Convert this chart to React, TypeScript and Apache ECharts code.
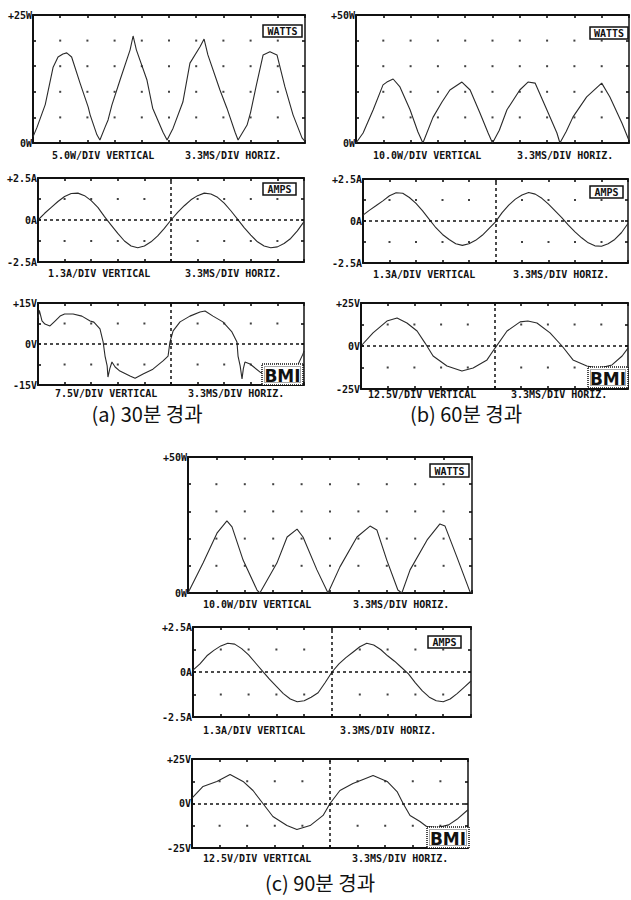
import React, { useEffect, useRef } from "react";
import * as echarts from "echarts";

// ---------- data (x in divisions, 3.3 ms / div) ----------
// (a) 30분 경과
const WATTS_A_X = [0, 0.15, 0.45, 0.74, 0.92, 1.1, 1.24, 1.42, 1.73, 2.03, 2.1, 2.35, 2.46, 2.65, 2.76, 2.9, 3.2, 3.57, 3.68, 3.8, 4.19, 4.4, 4.78, 4.93, 5.15, 5.51, 5.77, 6.14, 6.29, 6.43, 6.87, 7.13, 7.43, 7.54, 7.87, 8.0, 8.2, 8.46, 8.71, 8.97, 9.26, 9.56, 9.89, 10];
const WATTS_A_Y = [1.2, 3.1, 7.5, 14.8, 16.8, 17.4, 17.6, 16.8, 11.7, 7.0, 5.5, 1.6, 0.6, 3.1, 4.5, 7.4, 12.3, 18.2, 20.9, 18.2, 12.3, 6.8, 2.1, 0.6, 2.9, 8.0, 15.6, 18.8, 20.3, 17.2, 10.4, 6.8, 2.1, 0.6, 3.5, 6.0, 11.0, 17.2, 17.8, 17.2, 11.0, 5.5, 1.0, 0.3];

const AMPS_T = Array.from({ length: 41 }, (_, i) => i * 0.25);
const AMPS_A_Y = [0, 0.4, 0.75, 1.1, 1.4, 1.58, 1.6, 1.45, 1.15, 0.75, 0.2, -0.3, -0.8, -1.25, -1.55, -1.65, -1.55, -1.3, -0.95, -0.5, 0, 0.45, 0.85, 1.2, 1.45, 1.6, 1.55, 1.35, 1.0, 0.55, 0.05, -0.45, -0.9, -1.3, -1.55, -1.65, -1.6, -1.4, -1.1, -0.65, -0.1];

const VOLTS_A_X = [0, 0.05, 0.15, 0.26, 0.45, 0.64, 0.83, 1.0, 1.32, 1.65, 1.96, 2.1, 2.33, 2.45, 2.52, 2.6, 2.63, 2.7, 2.78, 2.9, 3.08, 3.46, 3.65, 3.95, 4.32, 4.7, 4.89, 4.96, 5.08, 5.34, 5.71, 6.09, 6.28, 6.58, 6.95, 7.29, 7.48, 7.52, 7.6, 7.67, 7.72, 7.78, 7.97, 8.35, 8.83, 9.36, 9.73, 9.96, 10];
const VOLTS_A_Y = [9.5, 12.3, 8.5, 7.3, 6.6, 8.4, 10.2, 11, 11, 10.2, 8.4, 8.0, 5.5, 0.7, -4.4, -8, -12.1, -9, -6.6, -8.4, -9.9, -11.7, -12.5, -11, -9.2, -6.2, -4.4, 0.7, 4.8, 8.1, 10.2, 11.7, 12.1, 10.2, 8.1, 4.4, 0.7, -4.4, -8, -12.8, -9, -6.6, -7.3, -10.3, -12.1, -11, -8.4, -3.7, -2.5];

// (b) 60분 경과
const WATTS_B_X = [0, 0.26, 0.63, 0.99, 1.13, 1.36, 1.61, 1.98, 2.27, 2.45, 2.82, 3.15, 3.44, 3.88, 4.18, 4.54, 4.84, 5.0, 5.25, 5.53, 6.0, 6.3, 6.56, 6.99, 7.36, 7.47, 7.7, 7.95, 8.45, 9.0, 9.3, 9.74, 10];
const WATTS_B_Y = [0, 3.9, 13, 22.7, 23.8, 25, 21.9, 13, 4.3, 0, 10, 16, 20.7, 23.8, 20.7, 11.7, 3.9, 0, 5, 13, 20.7, 23.8, 23.4, 13, 3.9, 0, 4.5, 10.2, 18, 23.4, 18, 7.8, 1];

const AMPS_B_Y = [0.35, 0.65, 0.92, 1.2, 1.5, 1.68, 1.65, 1.4, 1.05, 0.6, 0.1, -0.4, -0.8, -1.1, -1.35, -1.45, -1.35, -1.15, -0.85, -0.45, -0.05, 0.5, 0.95, 1.3, 1.55, 1.7, 1.6, 1.35, 1.0, 0.6, 0.2, -0.25, -0.65, -1.0, -1.3, -1.48, -1.5, -1.35, -1.1, -0.7, -0.15];

const VOLTS_B_X = [0, 0.45, 0.97, 1.35, 1.72, 2.1, 2.4, 2.7, 3.22, 3.78, 4.2, 4.72, 5.02, 5.47, 5.96, 6.25, 6.59, 7.08, 7.53, 7.94, 8.46, 8.9, 9.4, 9.78, 10];
const VOLTS_B_Y = [0, 7.6, 14.5, 16.3, 13.4, 8.7, 1.7, -5.8, -11.6, -14.5, -12.8, -8.1, -1.2, 8.7, 14, 14.5, 13.4, 7.6, 0, -8.1, -11.6, -13, -11, -5.8, -1.2];

// (c) 90분 경과
const WATTS_C_X = [0, 0.53, 1.02, 1.37, 1.55, 1.94, 2.43, 2.53, 3.13, 3.49, 3.84, 4.05, 4.54, 4.93, 5.35, 5.95, 6.41, 6.65, 7.0, 7.39, 7.53, 7.82, 8.42, 8.87, 9.05, 9.47, 9.93, 10];
const WATTS_C_Y = [0, 11, 22, 26.5, 24.3, 12.1, 1.1, 0, 11, 20.6, 23.5, 20.6, 8.5, 0, 9.6, 20.6, 24.6, 23.2, 12.1, 1.1, 0, 8.5, 19.5, 25.4, 24.6, 13.2, 0.4, 0];

const AMPS_C_Y = [0.1, 0.45, 0.9, 1.2, 1.45, 1.6, 1.55, 1.3, 0.95, 0.5, 0.05, -0.4, -0.8, -1.2, -1.5, -1.65, -1.6, -1.4, -1.15, -0.6, 0, 0.45, 0.8, 1.1, 1.4, 1.6, 1.5, 1.25, 0.9, 0.6, 0.25, -0.1, -0.6, -1.05, -1.4, -1.6, -1.65, -1.5, -1.2, -0.85, -0.5];

const VOLTS_C_X = [0, 0.4, 0.9, 1.38, 1.85, 2.21, 2.57, 2.93, 3.44, 3.8, 4.28, 4.75, 5.0, 5.36, 5.83, 6.2, 6.56, 7.07, 7.43, 7.65, 7.9, 8.26, 8.5, 8.9, 9.3, 9.64, 10];
const VOLTS_C_Y = [3, 9.6, 12.4, 16.3, 12.4, 7.3, 0, -7.3, -12.4, -14.6, -12.4, -6.7, 0, 7.3, 11.2, 13.5, 15.7, 12.4, 6.7, 0, -6.7, -10.1, -12.9, -13.5, -12, -8.4, -3.5];

// ---------- tick labels & texts ----------
const W25_TICKS = ["0W", "+25W"];
const W50_TICKS = ["0W", "+50W"];
const A_TICKS = ["-2.5A", "0A", "+2.5A"];
const V15_TICKS = ["-15V", "0V", "+15V"];
const V25_TICKS = ["-25V", "0V", "+25V"];
const CAPTIONS = ["(a) 30분 경과", "(b) 60분 경과", "(c) 90분 경과"];
const HORIZ_LABEL = "3.3MS/DIV HORIZ.";

const INK = "#111";
const TRACE = "#2a2a2a";
const MONO = '"DejaVu Sans Mono", monospace';

type Panel = {
  left: number; top: number; width: number; height: number;
  min: number; max: number; step: number; ticks: string[];
  xs: number[]; ys: number[]; center: boolean;
  badge: string; bx: number; by: number; bw: number; bh: number;
  vert: string; vx: number; hx: number; ly: number;
};

const PANELS: Panel[] = [
  { left: 33, top: 15, width: 272, height: 128, min: 0, max: 25, step: 5, ticks: W25_TICKS, xs: WATTS_A_X, ys: WATTS_A_Y, center: false, badge: "WATTS", bx: 263, by: 25, bw: 39, bh: 12, vert: "5.0W/DIV VERTICAL", vx: 52, hx: 185, ly: 155 },
  { left: 38, top: 178, width: 266, height: 84, min: -2.5, max: 2.5, step: 1.25, ticks: A_TICKS, xs: AMPS_T, ys: AMPS_A_Y, center: true, badge: "AMPS", bx: 263, by: 183, bw: 33, bh: 12, vert: "1.3A/DIV VERTICAL", vx: 48, hx: 185, ly: 273 },
  { left: 38, top: 303, width: 266, height: 82, min: -15, max: 15, step: 7.5, ticks: V15_TICKS, xs: VOLTS_A_X, ys: VOLTS_A_Y, center: true, badge: "BMI", bx: 262, by: 364, bw: 41, bh: 21, vert: "7.5V/DIV VERTICAL", vx: 55, hx: 188, ly: 393 },
  { left: 356, top: 15, width: 273, height: 128, min: 0, max: 50, step: 10, ticks: W50_TICKS, xs: WATTS_B_X, ys: WATTS_B_Y, center: false, badge: "WATTS", bx: 590, by: 27, bw: 38, bh: 12, vert: "10.0W/DIV VERTICAL", vx: 373, hx: 517, ly: 155 },
  { left: 363, top: 179, width: 265, height: 84, min: -2.5, max: 2.5, step: 1.25, ticks: A_TICKS, xs: AMPS_T, ys: AMPS_B_Y, center: true, badge: "AMPS", bx: 590, by: 186, bw: 33, bh: 12, vert: "1.3A/DIV VERTICAL", vx: 373, hx: 513, ly: 274 },
  { left: 361, top: 303, width: 267, height: 86, min: -25, max: 25, step: 12.5, ticks: V25_TICKS, xs: VOLTS_B_X, ys: VOLTS_B_Y, center: true, badge: "BMI", bx: 588, by: 367, bw: 40, bh: 21, vert: "12.5V/DIV VERTICAL", vx: 368, hx: 511, ly: 394 },
  { left: 188, top: 457, width: 284, height: 136, min: 0, max: 50, step: 10, ticks: W50_TICKS, xs: WATTS_C_X, ys: WATTS_C_Y, center: false, badge: "WATTS", bx: 430, by: 464, bw: 39, bh: 13, vert: "10.0W/DIV VERTICAL", vx: 203, hx: 353, ly: 604 },
  { left: 193, top: 627, width: 278, height: 90, min: -2.5, max: 2.5, step: 1.25, ticks: A_TICKS, xs: AMPS_T, ys: AMPS_C_Y, center: true, badge: "AMPS", bx: 428, by: 636, bw: 33, bh: 12, vert: "1.3A/DIV VERTICAL", vx: 203, hx: 340, ly: 730 },
  { left: 192, top: 759, width: 276, height: 89, min: -25, max: 25, step: 12.5, ticks: V25_TICKS, xs: VOLTS_C_X, ys: VOLTS_C_Y, center: true, badge: "BMI", bx: 427, by: 827, bw: 42, bh: 21, vert: "12.5V/DIV VERTICAL", vx: 203, hx: 352, ly: 858 },
];

const CAPTION_POS = [
  { x: 147, y: 413 },
  { x: 466, y: 413 },
  { x: 320, y: 882 },
];

function tickLabel(p: Panel, v: number): string {
  const near = (a: number, b: number) => Math.abs(a - b) < 1e-6;
  if (near(v, p.min)) return p.ticks[0];
  if (near(v, p.max)) return p.ticks[p.ticks.length - 1];
  if (p.ticks.length === 3 && near(v, 0)) return p.ticks[1];
  return "";
}

function buildOption() {
  const grid: any[] = [];
  const xAxis: any[] = [];
  const yAxis: any[] = [];
  const series: any[] = [];
  const graphic: any[] = [];

  PANELS.forEach((p, i) => {
    grid.push({ left: p.left, top: p.top, width: p.width, height: p.height });
    const line = (w: number) => ({ show: true, onZero: false, lineStyle: { color: INK, width: w } });
    const tick = { show: true, inside: true, length: 3, lineStyle: { color: INK, width: 1.6 } };
    const xBase = {
      gridIndex: i, type: "value", min: 0, max: 10, interval: 1,
      axisTick: tick, axisLabel: { show: false }, splitLine: { show: false },
    };
    xAxis.push({ ...xBase, position: "bottom", axisLine: line(2) });
    xAxis.push({ ...xBase, position: "top", axisLine: line(2) });
    const yBase = {
      gridIndex: i, type: "value", min: p.min, max: p.max, interval: p.step,
      axisTick: tick, splitLine: { show: false },
    };
    yAxis.push({
      ...yBase, position: "left", axisLine: line(2),
      axisLabel: {
        show: true, showMinLabel: true, showMaxLabel: true, margin: 1,
        formatter: (v: number) => tickLabel(p, v),
        fontFamily: MONO, fontSize: 10, fontWeight: "bold", color: INK,
      },
    });
    yAxis.push({ ...yBase, position: "right", axisLine: line(1.5), axisLabel: { show: false } });

    const ndiv = Math.round((p.max - p.min) / p.step);
    const dots: number[][] = [];
    for (let gx = 1; gx < 10; gx++) {
      for (let gy = 1; gy < ndiv; gy++) {
        const yv = p.min + gy * p.step;
        if (p.center && (gx === 5 || Math.abs(yv) < 1e-6)) continue;
        dots.push([gx, yv]);
      }
    }
    series.push({
      type: "scatter", xAxisIndex: 2 * i, yAxisIndex: 2 * i, data: dots,
      symbol: "rect", symbolSize: 2, itemStyle: { color: INK }, silent: true, z: 1,
    });
    series.push({
      type: "line", xAxisIndex: 2 * i, yAxisIndex: 2 * i,
      data: p.xs.map((x, k) => [x, p.ys[k]]),
      showSymbol: false, symbol: "none", silent: true, z: 3,
      lineStyle: { color: TRACE, width: 1.1 },
      markLine: p.center
        ? {
            silent: true, symbol: ["none", "none"], label: { show: false },
            lineStyle: { type: [3, 3], color: INK, width: 1.5 },
            data: [{ yAxis: 0 }, { xAxis: 5 }],
          }
        : undefined,
    });

    // badge
    if (p.badge === "BMI") {
      graphic.push({
        type: "rect", z: 100,
        shape: { x: p.bx, y: p.by, width: p.bw, height: p.bh },
        style: { fill: "#fff", stroke: INK, lineWidth: 1.5, lineDash: [1, 1] },
      });
      graphic.push({
        type: "rect", z: 101,
        shape: { x: p.bx + 2.5, y: p.by + 2.5, width: p.bw - 5, height: p.bh - 5 },
        style: { fill: "#fff", stroke: "#555", lineWidth: 1, lineDash: [1, 1] },
      });
      graphic.push({
        type: "text", z: 102,
        style: {
          text: p.badge, x: p.bx + p.bw / 2, y: p.by + p.bh / 2 + 1,
          textAlign: "center", textVerticalAlign: "middle", verticalAlign: "middle",
          font: 'bold 17px "DejaVu Sans", sans-serif', fill: INK,
        },
      });
    } else {
      graphic.push({
        type: "rect", z: 100,
        shape: { x: p.bx, y: p.by, width: p.bw, height: p.bh },
        style: { fill: "#fff", stroke: INK, lineWidth: 1.5 },
      });
      graphic.push({
        type: "text", z: 101,
        style: {
          text: p.badge, x: p.bx + p.bw / 2, y: p.by + p.bh / 2 + 0.5,
          textAlign: "center", textVerticalAlign: "middle", verticalAlign: "middle",
          font: `bold 10px ${MONO}`, fill: INK,
        },
      });
    }
    // under labels
    [
      { t: p.vert, x: p.vx },
      { t: HORIZ_LABEL, x: p.hx },
    ].forEach((l) => {
      graphic.push({
        type: "text", z: 100,
        style: {
          text: l.t, x: l.x, y: p.ly,
          textAlign: "left", textVerticalAlign: "middle", verticalAlign: "middle",
          font: `bold 10px ${MONO}`, fill: INK,
        },
      });
    });
  });

  CAPTIONS.forEach((c, i) => {
    graphic.push({
      type: "text", z: 100,
      style: {
        text: c, x: CAPTION_POS[i].x, y: CAPTION_POS[i].y,
        textAlign: "center", textVerticalAlign: "middle", verticalAlign: "middle",
        font: '20px "Noto Sans CJK KR", sans-serif', fill: INK,
      },
    });
  });

  return {
    animation: false,
    backgroundColor: "#fff",
    grid, xAxis, yAxis, series, graphic,
  };
}

export default function App() {
  const ref = useRef<HTMLDivElement>(null);
  useEffect(() => {
    if (!ref.current) return;
    const chart = echarts.init(ref.current, undefined, { renderer: "svg", width: 631, height: 900 });
    chart.setOption(buildOption() as any);
    return () => chart.dispose();
  }, []);
  return (
    <div
      ref={ref}
      style={{ position: "absolute", left: 0, top: 0, width: 631, height: 900, background: "#fff" }}
    />
  );
}
